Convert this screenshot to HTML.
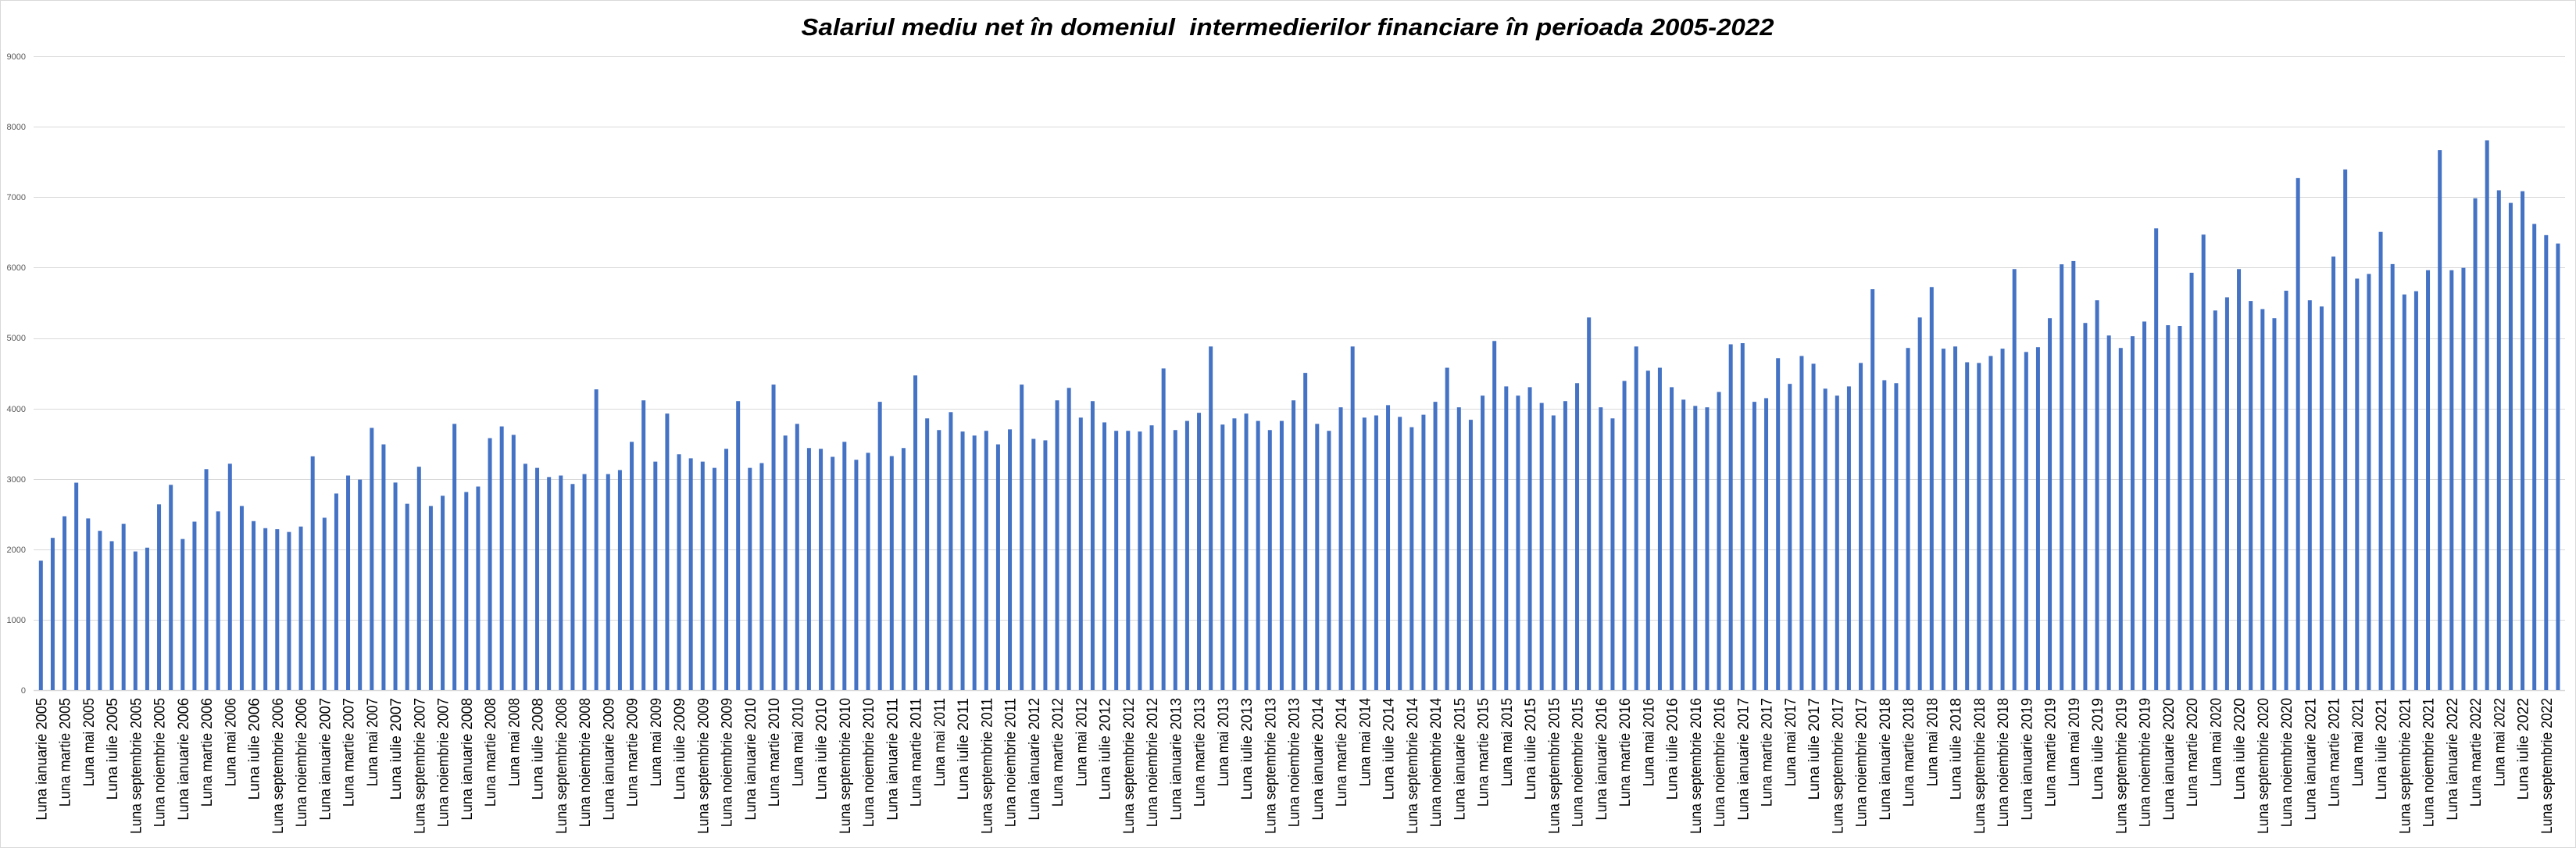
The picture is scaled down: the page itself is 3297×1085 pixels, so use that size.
<!DOCTYPE html>
<html><head><meta charset="utf-8"><style>
html,body{margin:0;padding:0;background:#fff;}
svg{display:block;}
.xl{font-family:"Liberation Sans Narrow","Liberation Sans",sans-serif;font-size:19px;fill:#000;}
.yl{font-family:"Liberation Sans",sans-serif;font-size:11px;fill:#595959;}
</style></head><body>
<svg id="c" width="3297" height="1085" viewBox="0 0 3297 1085" xmlns="http://www.w3.org/2000/svg">
<rect x="0.5" y="0.5" width="3296" height="1084" fill="#fff" stroke="#d9d9d9"/>
<text x="1648" y="45" text-anchor="middle" textLength="1245" lengthAdjust="spacingAndGlyphs" style="white-space:pre" font-family="Liberation Sans, sans-serif" font-size="31" font-weight="bold" font-style="italic" fill="#000">Salariul mediu net în domeniul  intermedierilor financiare în perioada 2005-2022</text>
<g id="grid"></g>
<g class="yl" text-anchor="end">
<text x="33" y="887">0</text><text x="33" y="797">1000</text><text x="33" y="707">2000</text><text x="33" y="617">3000</text><text x="33" y="527">4000</text><text x="33" y="436">5000</text><text x="33" y="346">6000</text><text x="33" y="256">7000</text><text x="33" y="166">8000</text><text x="33" y="76">9000</text>
</g>
<g id="bars" fill="#4472C4"></g>
<g id="labels" class="xl" text-anchor="end">
<text>Luna ianuarie 2005</text><text>Luna martie 2005</text><text>Luna mai 2005</text><text>Luna iulie 2005</text><text>Luna septembrie 2005</text><text>Luna noiembrie 2005</text>
<text>Luna ianuarie 2006</text><text>Luna martie 2006</text><text>Luna mai 2006</text><text>Luna iulie 2006</text><text>Luna septembrie 2006</text><text>Luna noiembrie 2006</text>
<text>Luna ianuarie 2007</text><text>Luna martie 2007</text><text>Luna mai 2007</text><text>Luna iulie 2007</text><text>Luna septembrie 2007</text><text>Luna noiembrie 2007</text>
<text>Luna ianuarie 2008</text><text>Luna martie 2008</text><text>Luna mai 2008</text><text>Luna iulie 2008</text><text>Luna septembrie 2008</text><text>Luna noiembrie 2008</text>
<text>Luna ianuarie 2009</text><text>Luna martie 2009</text><text>Luna mai 2009</text><text>Luna iulie 2009</text><text>Luna septembrie 2009</text><text>Luna noiembrie 2009</text>
<text>Luna ianuarie 2010</text><text>Luna martie 2010</text><text>Luna mai 2010</text><text>Luna iulie 2010</text><text>Luna septembrie 2010</text><text>Luna noiembrie 2010</text>
<text>Luna ianuarie 2011</text><text>Luna martie 2011</text><text>Luna mai 2011</text><text>Luna iulie 2011</text><text>Luna septembrie 2011</text><text>Luna noiembrie 2011</text>
<text>Luna ianuarie 2012</text><text>Luna martie 2012</text><text>Luna mai 2012</text><text>Luna iulie 2012</text><text>Luna septembrie 2012</text><text>Luna noiembrie 2012</text>
<text>Luna ianuarie 2013</text><text>Luna martie 2013</text><text>Luna mai 2013</text><text>Luna iulie 2013</text><text>Luna septembrie 2013</text><text>Luna noiembrie 2013</text>
<text>Luna ianuarie 2014</text><text>Luna martie 2014</text><text>Luna mai 2014</text><text>Luna iulie 2014</text><text>Luna septembrie 2014</text><text>Luna noiembrie 2014</text>
<text>Luna ianuarie 2015</text><text>Luna martie 2015</text><text>Luna mai 2015</text><text>Luna iulie 2015</text><text>Luna septembrie 2015</text><text>Luna noiembrie 2015</text>
<text>Luna ianuarie 2016</text><text>Luna martie 2016</text><text>Luna mai 2016</text><text>Luna iulie 2016</text><text>Luna septembrie 2016</text><text>Luna noiembrie 2016</text>
<text>Luna ianuarie 2017</text><text>Luna martie 2017</text><text>Luna mai 2017</text><text>Luna iulie 2017</text><text>Luna septembrie 2017</text><text>Luna noiembrie 2017</text>
<text>Luna ianuarie 2018</text><text>Luna martie 2018</text><text>Luna mai 2018</text><text>Luna iulie 2018</text><text>Luna septembrie 2018</text><text>Luna noiembrie 2018</text>
<text>Luna ianuarie 2019</text><text>Luna martie 2019</text><text>Luna mai 2019</text><text>Luna iulie 2019</text><text>Luna septembrie 2019</text><text>Luna noiembrie 2019</text>
<text>Luna ianuarie 2020</text><text>Luna martie 2020</text><text>Luna mai 2020</text><text>Luna iulie 2020</text><text>Luna septembrie 2020</text><text>Luna noiembrie 2020</text>
<text>Luna ianuarie 2021</text><text>Luna martie 2021</text><text>Luna mai 2021</text><text>Luna iulie 2021</text><text>Luna septembrie 2021</text><text>Luna noiembrie 2021</text>
<text>Luna ianuarie 2022</text><text>Luna martie 2022</text><text>Luna mai 2022</text><text>Luna iulie 2022</text><text>Luna septembrie 2022</text>
</g>
</svg>
<script>
(function(){
var NS="http://www.w3.org/2000/svg";
var v=[1838,2162,2469,2946,2438,2262,2115,2362,1969,2023,2638,2915,2146,2392,3138,2538,3215,2615,2400,2300,2285,2246,2323,3320,
2448,2792,3047,2990,3724,3490,2948,2646,3172,2615,2760,3781,2813,2891,3578,3745,3625,3214,3156,3026,3047,2927,3068,4271,3068,3125,3526,4115,
3245,3927,3349,3292,3245,3156,3427,4104,3156,3224,4339,3615,3781,3438,3427,3313,3526,3271,3370,4094,3323,3438,4469,3859,3693,3948,3672,3615,3682,
3490,3703,4339,3568,3547,4115,4292,3870,4104,3802,3682,3682,3672,3760,4568,3693,3823,3938,4880,3771,3859,3927,3823,3693,3823,4115,4505,3781,3682,
4016,4880,3870,3901,4047,3880,3734,3911,4094,4578,4016,3839,4182,4958,4313,4182,4302,4078,3901,4104,4359,5292,4016,3859,4391,4880,4536,4578,
4302,4125,4036,4016,4234,4911,4927,4094,4146,4714,4349,4745,4635,4281,4182,4313,4646,5693,4401,4359,4859,5292,5724,4849,4880,4656,4646,4745,4849,
5979,4802,4870,5281,6047,6094,5214,5536,5036,4859,5026,5234,6557,5182,5172,5927,6469,5391,5578,5979,5526,5411,5281,5672,7271,5536,5448,6156,7394,
5844,5910,6507,6050,5619,5665,5963,7668,5963,5997,6985,7808,7098,6919,7085,6620,6461,6342];
var y0=883,k=0.0901,x0=52.3,dx=15.125;
var g=document.getElementById('grid');
for(var i=0;i<=9;i++){var l=document.createElementNS(NS,'line');var y=Math.round(y0-i*1000*k)+0.5;
l.setAttribute('x1',43);l.setAttribute('x2',3283);l.setAttribute('y1',y);l.setAttribute('y2',y);
l.setAttribute('stroke','#d9d9d9');l.setAttribute('stroke-width',i==0?1.5:1);g.appendChild(l);}
var b=document.getElementById('bars');
for(var i=0;i<v.length;i++){var r=document.createElementNS(NS,'rect');var h=v[i]*k;
r.setAttribute('x',(x0+i*dx-2.5).toFixed(2));r.setAttribute('y',(y0-h).toFixed(2));r.setAttribute('width',5);r.setAttribute('height',h.toFixed(2));b.appendChild(r);}
var t=document.getElementById('labels').getElementsByTagName('text');
for(var j=0;j<t.length;j++){var x=x0+2*j*dx+7;
t[j].setAttribute('transform','translate('+x.toFixed(2)+',893) rotate(-90)');
t[j].setAttribute('textLength',(t[j].textContent.length*8.7).toFixed(1));
t[j].setAttribute('lengthAdjust','spacingAndGlyphs');}
})();
</script>
</body></html>
